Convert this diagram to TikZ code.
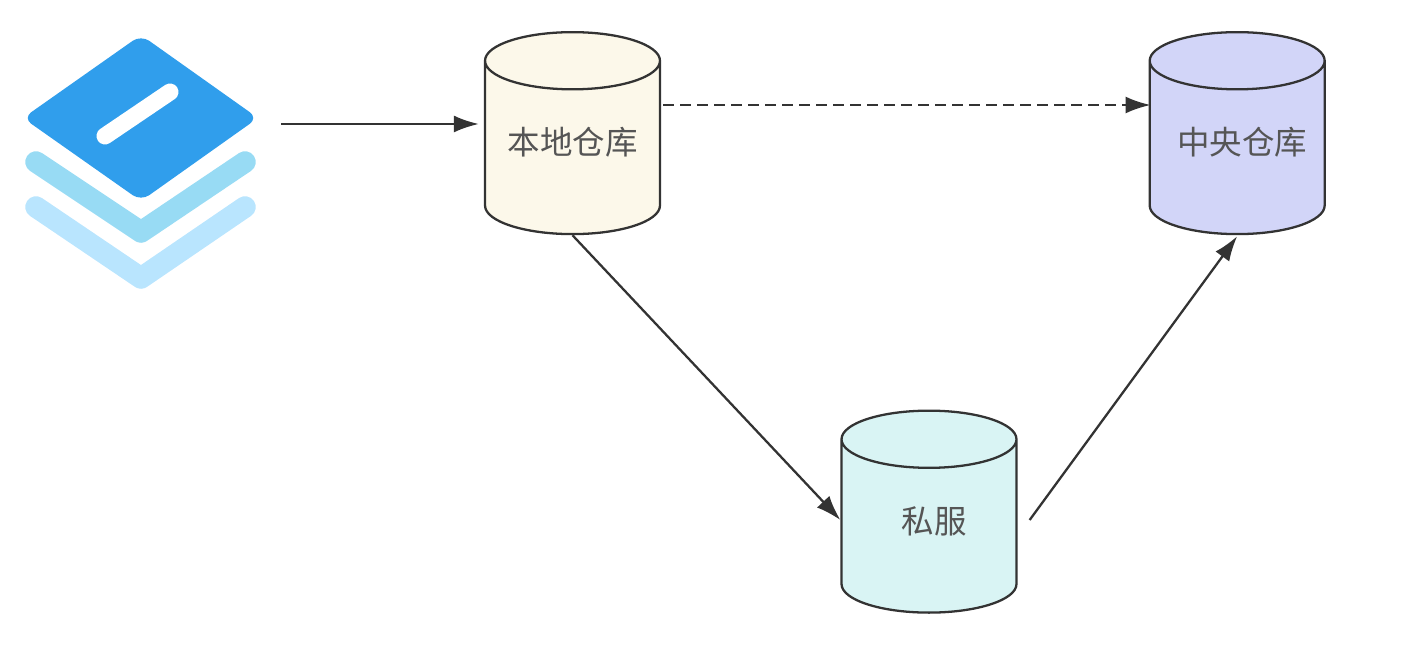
\documentclass[tikz,border=0pt]{standalone}
\usepackage{fontspec}
\setmainfont{Noto Sans CJK SC}
\usepackage{xcolor}
\usetikzlibrary{positioning, arrows.meta, shapes.geometric}
\definecolor{localfill}{HTML}{FCF8EA}
\definecolor{centralfill}{HTML}{D2D5F8}
\definecolor{privatefill}{HTML}{D9F4F4}
\definecolor{linecol}{HTML}{333333}
\definecolor{labelcol}{HTML}{555555}
\definecolor{iconblue}{HTML}{309EEC}
\definecolor{iconmid}{HTML}{98DBF4}
\definecolor{iconpale}{HTML}{B9E5FE}
\newcommand{\repolabel}[1]{\makebox[1.3cm]{\rule{0pt}{0.55cm}\smash{\raisebox{0.135cm}{#1}}}}

\begin{document}
\begin{tikzpicture}[
  x=0.02cm, y=-0.02cm,
  repo/.style={draw=linecol, line width=1.3pt, cylinder, shape border rotate=90, shape aspect=0.88, cylinder uses custom fill, minimum width=3.5cm, minimum height=4.04cm, inner sep=0pt, font=\fontsize{18.5}{20}\selectfont, text=labelcol},
  arrow/.style={-{Latex[length=0.5cm, width=0.34cm]}, line width=1.3pt, draw=linecol},
  layer/.style={line width=0.43cm, line cap=round, line join=round},
  iconbox/.style={inner sep=0pt, minimum width=5.12cm, minimum height=3.48cm}
]
  \useasboundingbox (0,0) rectangle (1413,651);

  % Icon
  \fill[iconblue, rounded corners=0.2cm] (141,35) -- (258,118) -- (141,201) -- (23,118) -- cycle;
  \draw[white, line cap=round, line width=0.34cm] (105,136) -- (170,92);
  \draw[layer, draw=iconmid] (36,162) -- (141,232) -- (245,162);
  \draw[layer, draw=iconpale] (36,207) -- (141,278) -- (245,207);
  \node[iconbox] (icon) at (153,124) {};

  % Repositories
  \node[repo, cylinder body fill=localfill, cylinder end fill=localfill] (local) at (572.5,148) {\repolabel{本地仓库}};
  \node[repo, cylinder body fill=centralfill, cylinder end fill=centralfill, right=9.75cm of local] (central) {\repolabel{\hspace{0.2cm}中央仓库}};
  \node[repo, cylinder body fill=privatefill, cylinder end fill=privatefill] (private) at (929,526.5) {\repolabel{\hspace{0.2cm}私服}};

  % Arrows
  \draw[arrow, shorten >=0.1cm] (icon.east) -- (icon.east -| local.west);
  \draw[arrow, dash pattern=on 0.22cm off 0.12cm] ([yshift=0.86cm, xshift=0.04cm]local.east) -- ([yshift=0.86cm, xshift=0.04cm]central.west);
  \draw[arrow] (local.south) -- ([yshift=0.13cm]private.west);
  \draw[arrow] ([yshift=0.13cm, xshift=0.24cm]private.east) -- ([yshift=-0.02cm]central.south);

\end{tikzpicture}
\end{document}
